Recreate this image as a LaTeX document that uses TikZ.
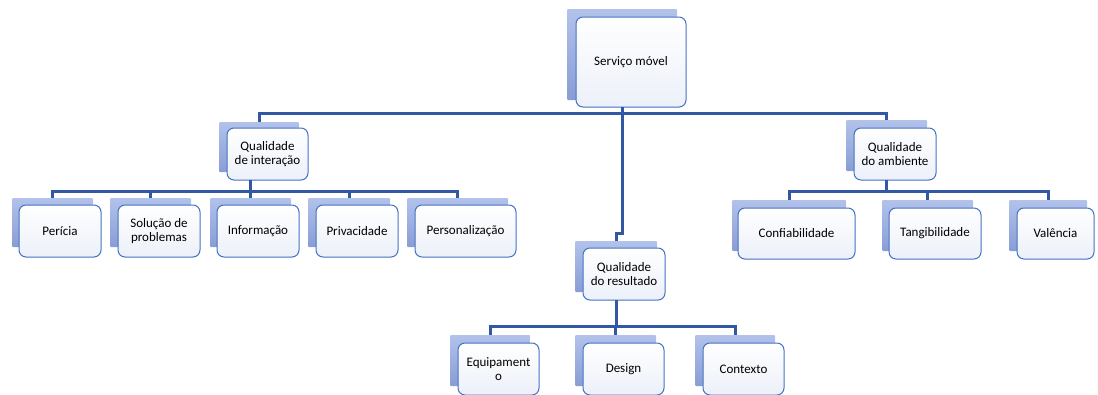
\documentclass[tikz,border=0pt]{standalone}
\usepackage{fontspec}
\setmainfont{Carlito}
\definecolor{backtop}{RGB}{178,194,234}
\definecolor{backbot}{RGB}{136,157,213}
\definecolor{frontbot}{RGB}{236,240,249}
\definecolor{frontline}{RGB}{68,114,196}
\definecolor{linkblue}{RGB}{50,88,164}

\begin{document}
\begin{tikzpicture}[x=1pt,y=-1pt,
    back/.style={anchor=north west,inner sep=0pt,outer sep=0pt,
      top color=backtop,bottom color=backbot,rounded corners=1pt},
    card/.style={anchor=north west,inner sep=0pt,outer sep=0pt,align=center,
      top color=white,bottom color=frontbot,draw=frontline,line width=1pt,
      rounded corners=7pt,font=\fontsize{13}{14.5}\selectfont},
    link/.style={draw=linkblue,line width=3pt}]
    \useasboundingbox (0,0) rectangle (1098,394);
    % top level
    \node [back,minimum width=110pt,minimum height=91pt] (rootB) at (567,9) {};
    \node [card,minimum width=110pt,minimum height=90pt] (root) at (576,17) {Serviço móvel};
    % second level
    \node [back,minimum width=80pt,minimum height=50pt] (qiB) at (219,122) {};
    \node [card,minimum width=81pt,minimum height=52pt] (qi) at (227,128) {Qualidade\\de interação};
    \node [back,minimum width=81pt,minimum height=51pt] (qaB) at (846,120) {};
    \node [card,minimum width=82pt,minimum height=52pt] (qa) at (854,128) {Qualidade\\do ambiente};
    \node [back,minimum width=82pt,minimum height=51pt] (qrB) at (575,241) {};
    \node [card,minimum width=82pt,minimum height=52pt] (qr) at (583,248) {Qualidade\\do resultado};
    \coordinate (rootS) at (rootB.south |- root.south);
    \draw [link] (rootS) -- ++(0,6) -| (qiB.north);
    \draw [link] (rootS) -- ++(0,6) -| (qaB.north);
    \draw [link] (rootS) -- ++(0,126) -| (qrB.north);
    % third level
    \coordinate (qiS) at ([xshift=-17pt]qi.south);
    \foreach \n/\bx/\fx/\bw/\fw/\t in {pericia/12/19/81/82/Perícia,
      solucao/110/118/81/82/{Solução de\\problemas},
      informacao/210/217/81/82/Informação,
      privacidade/308/316/82/82/Privacidade,
      personalizacao/407/415/101/101/Personalização} {
      \node [back,minimum width=\bw pt,minimum height=49pt] (\n B) at (\bx,198) {};
      \node [card,minimum width=\fw pt,minimum height=52pt] (\n) at (\fx,205) {\t};
      \draw [link] (qiS) -- ++(0,11) -| (\n B.north);
    }
    \coordinate (qaS) at (qaB.south |- qa.south);
    \foreach \n/\bx/\fx/\bw/\fw/\t in {confiab/732/738/114/117/Confiabilidade,
      tangib/882/889/91/92/Tangibilidade,
      valencia/1009/1017/78/77/Valência} {
      \node [back,minimum width=\bw pt,minimum height=51pt] (\n B) at (\bx,200) {};
      \node [card,minimum width=\fw pt,minimum height=51pt] (\n) at (\fx,208) {\t};
      \draw [link] (qaS) -- ++(0,11) -| (\n B.north);
    }
    \coordinate (qrS) at (qrB.south |- qr.south);
    \foreach \n/\bx/\fx/\bw/\fw/\t in {equip/450/458/80/81/{Equipament\\o},
      design/575/583/81/81/Design,
      contexto/695/703/80/81/Contexto} {
      \node [back,minimum width=\bw pt,minimum height=51pt] (\n B) at (\bx,335) {};
      \node [card,minimum width=\fw pt,minimum height=52pt] (\n) at (\fx,343) {\t};
      \draw [link] (qrS) -- ++(0,26) -| (\n B.north);
    }
\end{tikzpicture}
\end{document}
